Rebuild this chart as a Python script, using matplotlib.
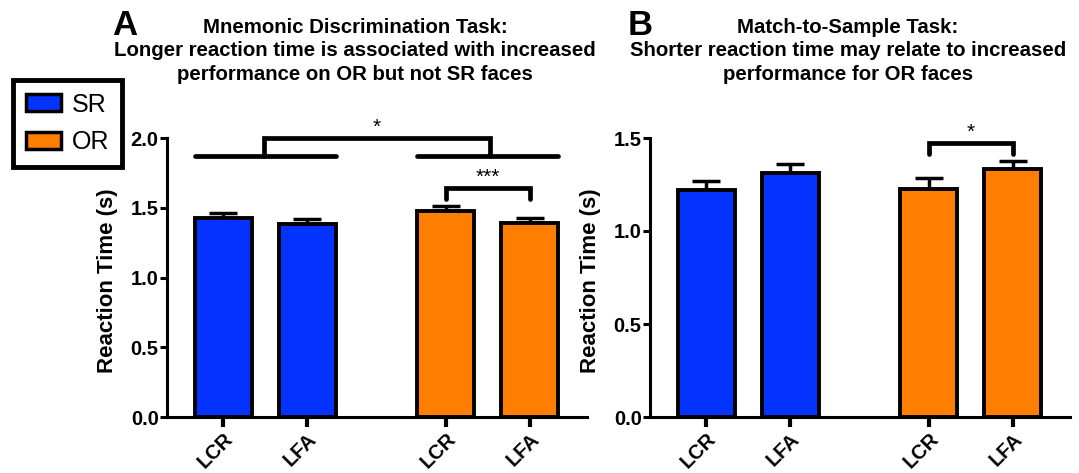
import matplotlib.pyplot as plt
import matplotlib.patches as mpatches
import numpy as np

plt.rcParams['font.family'] = ['Liberation Sans', 'DejaVu Sans']
plt.rcParams['font.weight'] = 'bold'

# data
groups = ['SR', 'OR']
conditions = ['LCR', 'LFA']
colors = {'SR': '#0433FF', 'OR': '#FF7E00'}

md_mean = {'SR': [1.43, 1.385], 'OR': [1.475, 1.39]}
md_sem = {'SR': [0.035, 0.035], 'OR': [0.04, 0.037]}

mts_mean = {'SR': [1.222, 1.31], 'OR': [1.228, 1.333]}
mts_sem = {'SR': [0.045, 0.05], 'OR': [0.055, 0.045]}

title_a = ['Mnemonic Discrimination Task:',
           'Longer reaction time is associated with increased',
           'performance on OR but not SR faces']
title_b = ['Match-to-Sample Task:',
           'Shorter reaction time may relate to increased',
           'performance for OR faces']

pos = {'SR': np.array([0, 1.0]), 'OR': np.array([2.65, 3.65])}
width = 0.68

fig = plt.figure(figsize=(10.79, 4.73), dpi=100)
axA = fig.add_axes([167/1079, 1 - 417/473, 420/1079, 279/473])
axB = fig.add_axes([650/1079, 1 - 417/473, 420/1079, 279/473])


def draw_bars(ax, means, sems, ymax, yticks):
    for g in groups:
        x = pos[g]
        ax.bar(x, means[g], width, color=colors[g], edgecolor='black',
               linewidth=2.8, zorder=2)
        ax.errorbar(x, means[g], yerr=[np.zeros(2), sems[g]], fmt='none',
                    ecolor='black', elinewidth=2.5, capsize=10, capthick=2.5,
                    zorder=1)
    ticks = np.concatenate([pos['SR'], pos['OR']])
    ax.set_xticks(ticks)
    ax.set_xticklabels(conditions * 2, rotation=45, ha='right', va='top',
                       rotation_mode='anchor', fontsize=14.5,
                       fontweight='bold')
    ax.set_xlim(-0.67, 4.33)
    ax.set_ylim(0, ymax)
    ax.set_yticks(yticks)
    ax.set_yticklabels([f'{t:.1f}' for t in yticks], fontsize=14.5,
                       fontweight='bold')
    ax.spines['top'].set_visible(False)
    ax.spines['right'].set_visible(False)
    ax.spines['left'].set_linewidth(2.2)
    ax.spines['bottom'].set_linewidth(2.2)
    ax.spines['left'].set_bounds(0, ymax)
    ax.tick_params(axis='y', width=2.2, length=5, direction='out', pad=1)
    ax.tick_params(axis='x', width=3, length=7, direction='out', pad=2)
    ax.set_ylabel('Reaction Time (s)', fontsize=16, fontweight='bold')
    ax.yaxis.set_label_coords(-0.117, 0.487)


def bracket(ax, x1, x2, y, drop, text, lw=3.4, fs=15):
    ax.plot([x1, x1, x2, x2], [y - drop, y, y, y - drop], color='black',
            linewidth=lw, solid_capstyle='round', solid_joinstyle='miter',
            clip_on=False)
    ax.text((x1 + x2) / 2, y + 0.004 * ax.get_ylim()[1], text, ha='center',
            va='bottom', fontsize=fs, fontweight='normal')


draw_bars(axA, md_mean, md_sem, 2.0, [0.0, 0.5, 1.0, 1.5, 2.0])
draw_bars(axB, mts_mean, mts_sem, 1.5, [0.0, 0.5, 1.0, 1.5])

# panel A annotations
low = 1.87
for g in groups:
    x0 = pos[g][0] - width / 2
    x1 = pos[g][1] + width / 2
    axA.plot([x0, x1], [low, low], color='black', linewidth=3.4,
             solid_capstyle='round', clip_on=False)
bracket(axA, 0.48, 3.18, 2.0, 0.13, '*')
bracket(axA, pos['OR'][0], pos['OR'][1], 1.64, 0.08, '***')

# panel B annotations
bracket(axB, pos['OR'][0], pos['OR'][1], 1.475, 0.06, '*')

# titles, one text per line
for xc, lines in [(355, title_a), (848, title_b)]:
    for i, line in enumerate(lines):
        fig.text(xc/1079, 1 - (33 + 23.5 * i)/473, line, ha='center',
                 va='baseline', fontsize=14.7, fontweight='bold')
fig.text(112/1079, 1 - 35/473, 'A', fontsize=25, fontweight='bold',
         ha='left', va='baseline')
fig.text(628/1079, 1 - 35/473, 'B', fontsize=25, fontweight='bold',
         ha='left', va='baseline')

# legend
handles = [mpatches.Patch(facecolor=colors[g], edgecolor='black',
                          linewidth=2.5, label=g) for g in groups]
leg = fig.legend(handles=handles, loc='upper left',
                 bbox_to_anchor=(13/1079, 1 - 80/473), frameon=True,
                 fancybox=False, edgecolor='black', framealpha=1,
                 handlelength=1.4, handleheight=0.7, handletextpad=0.45,
                 labelspacing=0.55, borderpad=0.5, borderaxespad=0,
                 prop={'size': 18, 'weight': 'normal'})
leg.get_frame().set_linewidth(3.5)

fig.savefig('out.png', dpi=100)
